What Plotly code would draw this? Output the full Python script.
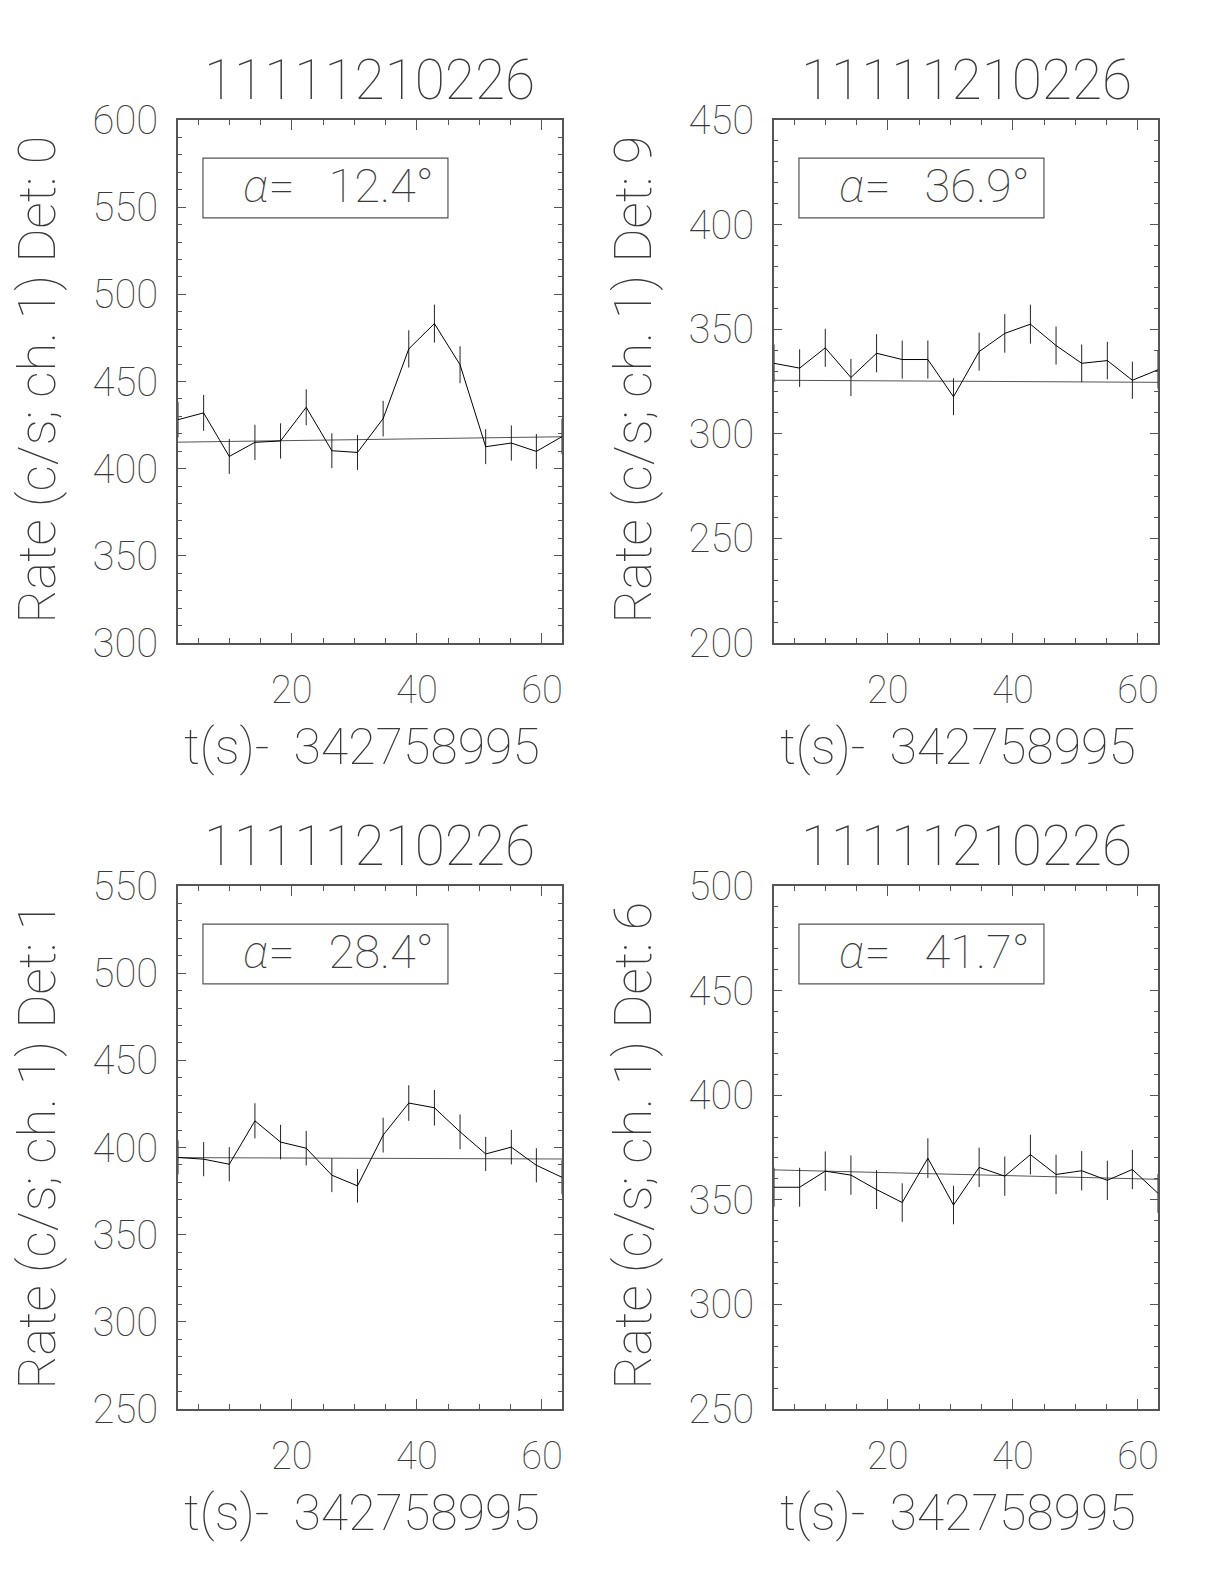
import plotly.graph_objects as go

# ---------------- data ----------------
t_s = [1.8, 5.9, 10.0, 14.1, 18.2, 22.3, 26.4, 30.5, 34.6, 38.7, 42.8, 46.9, 51.0, 55.1, 59.1, 63.2]

title_text = "11111210226"
x_title = "t(s)-  342758995"
det_labels = ["Rate (c/s; ch. 1) Det: 0", "Rate (c/s; ch. 1) Det: 9",
              "Rate (c/s; ch. 1) Det: 1", "Rate (c/s; ch. 1) Det: 6"]
alpha_vals = ["12.4", "36.9", "28.4", "41.7"]

rate_d0 = [428.1, 432.0, 407.0, 415.1, 415.9, 435.2, 410.3, 409.3, 428.7, 468.7, 483.2, 459.6, 412.6, 414.7, 409.9, 418.4]
err_d0 = [10.2, 10.3, 10.0, 10.1, 10.1, 10.3, 10.0, 10.0, 10.2, 10.7, 10.9, 10.6, 10.0, 10.1, 10.0, 10.1]
fit_d0 = [415.2, 418.3]

rate_d9 = [333.7, 331.4, 341.1, 326.9, 338.5, 335.5, 335.5, 317.7, 339.3, 348.0, 352.4, 342.2, 333.7, 335.0, 325.6, 330.6]
err_d9 = [9.0, 9.0, 9.1, 8.9, 9.1, 9.1, 9.1, 8.8, 9.1, 9.2, 9.3, 9.1, 9.0, 9.0, 8.9, 9.0]
fit_d9 = [325.6, 324.6]

rate_d1 = [394.3, 393.3, 390.4, 415.3, 403.1, 399.6, 384.1, 378.0, 407.1, 425.5, 422.8, 409.0, 396.3, 400.2, 389.8, 382.9]
err_d1 = [9.8, 9.8, 9.8, 10.1, 9.9, 9.9, 9.7, 9.6, 10.0, 10.2, 10.2, 10.0, 9.8, 9.9, 9.8, 9.7]
fit_d1 = [394.2, 393.4]

rate_d6 = [356.0, 356.0, 363.7, 361.8, 354.9, 348.7, 369.9, 347.5, 365.5, 361.3, 371.6, 362.1, 363.9, 359.3, 364.5, 353.1]
err_d6 = [9.3, 9.3, 9.4, 9.4, 9.3, 9.2, 9.5, 9.2, 9.4, 9.4, 9.5, 9.4, 9.4, 9.4, 9.4, 9.3]
fit_d6 = [364.3, 359.8]

y_ranges = [[300, 600], [200, 450], [250, 550], [250, 500]]

rates = [rate_d0, rate_d9, rate_d1, rate_d6]
errs = [err_d0, err_d9, err_d1, err_d6]
fits = [fit_d0, fit_d9, fit_d1, fit_d6]

# ---------------- layout geometry (pixels, page coords) ----------------
OFF = 8  # default page body margin
W, H = 1224 - 2 * OFF, 1584 - 2 * OFF
x_doms_px = [(178, 562), (774, 1158), (178, 562), (774, 1158)]
y_doms_px = [(120, 643), (120, 643), (886, 1409), (886, 1409)]

FONT = "Roboto"
WT = 100
TXT = "#3a3a3a"
AX = "#555555"


def px(xp):
    return (xp - OFF) / W


def py(yp):
    return 1 - (yp - OFF) / H


fig = go.Figure()
layout = dict(width=W, height=H, margin=dict(l=0, r=0, t=0, b=0, autoexpand=False),
              paper_bgcolor="white", plot_bgcolor="white", showlegend=False,
              font=dict(family=FONT, color=TXT, weight=WT))
annotations = []
shapes = []

for i in range(4):
    xa = "x" if i == 0 else f"x{i+1}"
    ya = "y" if i == 0 else f"y{i+1}"
    xk = "xaxis" if i == 0 else f"xaxis{i+1}"
    yk = "yaxis" if i == 0 else f"yaxis{i+1}"
    x0p, x1p = x_doms_px[i]
    y0p, y1p = y_doms_px[i]
    xd = [px(x0p), px(x1p)]
    yd = [py(y1p), py(y0p)]

    fig.add_trace(go.Scatter(x=[t_s[0], t_s[-1]], y=fits[i], mode="lines",
                             line=dict(color="#555555", width=1),
                             xaxis=xa, yaxis=ya, hoverinfo="skip"))
    fig.add_trace(go.Scatter(x=t_s, y=rates[i], mode="lines",
                             line=dict(color="black", width=1),
                             error_y=dict(type="data", array=errs[i], width=0,
                                          thickness=1, color="#222222"),
                             xaxis=xa, yaxis=ya))

    layout[xk] = dict(domain=xd, anchor=ya, range=[t_s[0], t_s[-1]], automargin=False,
                      showline=True, mirror="allticks", linecolor=AX, linewidth=1.5,
                      ticks="inside", ticklen=10, tickwidth=1, tickcolor=AX,
                      tick0=0, dtick=20, showgrid=False, zeroline=False,
                      tickfont=dict(size=38, family=FONT, color=TXT, weight=WT),
                      ticklabelstandoff=13,
                      minor=dict(ticks="inside", ticklen=5, dtick=5, tick0=0,
                                 tickcolor=AX, tickwidth=1, showgrid=False))
    layout[yk] = dict(domain=yd, anchor=xa, range=y_ranges[i], automargin=False,
                      showline=True, mirror="allticks", linecolor=AX, linewidth=1.5,
                      ticks="inside", ticklen=8, tickwidth=1, tickcolor=AX,
                      tick0=0, dtick=50, showgrid=False, zeroline=False,
                      tickfont=dict(size=40, family=FONT, color=TXT, weight=WT),
                      ticklabelstandoff=10,
                      minor=dict(ticks="inside", ticklen=4, dtick=10, tick0=0,
                                 tickcolor=AX, tickwidth=1, showgrid=False))

    cxp = (x0p + x1p) / 2
    # panel title
    annotations.append(dict(text=title_text, x=px(cxp), y=py(y0p - 40),
                            xref="paper", yref="paper", showarrow=False,
                            xanchor="center", yanchor="middle",
                            font=dict(size=55, family=FONT, color=TXT, weight=WT)))
    # x title
    annotations.append(dict(text=x_title, x=px(cxp - 8), y=py(y1p + 104),
                            xref="paper", yref="paper", showarrow=False, borderpad=0,
                            xanchor="center", yanchor="middle",
                            font=dict(size=50, family=FONT, color=TXT, weight=WT)))
    # y title
    annotations.append(dict(text=det_labels[i], x=px(x0p - 141),
                            y=py((y0p + y1p) / 2 - 2), borderpad=0,
                            xref="paper", yref="paper", showarrow=False,
                            textangle=-90, xanchor="center", yanchor="middle",
                            font=dict(size=52, family=FONT, color=TXT, weight=WT)))
    # alpha box
    dx = "x domain" if i == 0 else f"x{i+1} domain"
    dy = "y domain" if i == 0 else f"y{i+1} domain"
    shapes.append(dict(type="rect", xref=dx, yref=dy, x0=0.065, x1=0.703,
                       y0=0.813, y1=0.927, line=dict(color=AX, width=1.2),
                       fillcolor="rgba(0,0,0,0)"))
    annotations.append(dict(text="<i>α</i>=\u00a0\u00a0\u00a0" + alpha_vals[i] + "°",
                            xref=dx, yref=dy, x=0.417, y=0.874,
                            showarrow=False, xanchor="center", yanchor="middle",
                            font=dict(size=47, family=FONT, color=TXT, weight=WT)))

layout["annotations"] = annotations
layout["shapes"] = shapes
fig.update_layout(**layout)
fig.write_html("out.html")
